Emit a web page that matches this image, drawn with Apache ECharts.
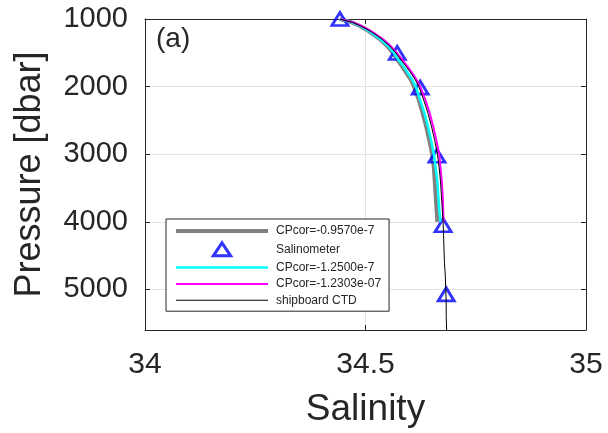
<!DOCTYPE html>
<html>
<head>
<meta charset="utf-8">
<script src="https://cdn.jsdelivr.net/npm/echarts@6/dist/echarts.min.js"></script>
<style>html,body{margin:0;padding:0;background:#fff;}#c{width:608px;height:433px;}</style>
</head>
<body>
<div id="c"></div>
<script>
// Pressure levels (dbar)
var pressure = [1000,1050,1100,1150,1200,1300,1400,1500,1600,1700,1800,1900,2000,2200,2400,2600,2800,3000,3200,3400,3600,3800,4000];
var pressureDeep = [4200,4400,4600,4800,5000,5200,5400,5600];

// Salinity profiles
var salGray = [34.442,34.469,34.486,34.500,34.512,34.533,34.549,34.562,34.572,34.583,34.593,34.603,34.610,34.621,34.630,34.638,34.645,34.651,34.655,34.657,34.659,34.661,34.663];
var salCyan = [34.442,34.469,34.487,34.501,34.513,34.534,34.551,34.564,34.574,34.586,34.596,34.606,34.614,34.624,34.634,34.642,34.649,34.655,34.659,34.663,34.665,34.667,34.670];
var salMagenta = [34.443,34.472,34.490,34.505,34.518,34.540,34.557,34.571,34.583,34.595,34.606,34.616,34.624,34.636,34.646,34.654,34.661,34.667,34.670,34.673,34.675,34.676,34.677];
var salCTD = [34.442,34.470,34.488,34.503,34.516,34.538,34.555,34.569,34.580,34.592,34.603,34.613,34.621,34.632,34.642,34.650,34.657,34.663,34.667,34.670,34.672,34.674,34.676];
var salCTDDeep = [34.677,34.678,34.679,34.681,34.682,34.683,34.683,34.684];

// Salinometer bottle samples
var bottleSal = [34.442,34.572,34.624,34.662,34.676,34.683];
var bottlePres = [1000,1502,2015,3024,4049,5073];

var seriesNames = ['CPcor=-0.9570e-7','Salinometer','CPcor=-1.2500e-7','CPcor=-1.2303e-07','shipboard CTD'];
var xTicks = [34, 34.5, 35];
var yTicks = [1000, 2000, 3000, 4000, 5000];

function pairs(xs, ys){ return xs.map(function(v,i){ return [v, ys[i]]; }); }

var FONT = "'Liberation Sans', Arial, Helvetica, sans-serif";
var TXT = '#262626';
var AX = '#262626';
var GRID = '#e3e3e3';
var BLUE = '#0000ff';

var chart = echarts.init(document.getElementById('c'), null, {renderer:'canvas'});
chart.setOption({
  animation: false,
  backgroundColor: '#fff',
  textStyle: {fontFamily: FONT, color: TXT},
  title: {
    text: '(a)', left: 156, top: 25, padding: 0,
    textStyle: {fontFamily: FONT, fontSize: 28, fontWeight: 'normal', color: TXT}
  },
  grid: {left: 145, right: 22, top: 19, bottom: 100, containLabel: false},
  legend: {
    orient: 'vertical', left: 166, top: 219,
    data: [
      {name: seriesNames[0], icon: 'path://M0,0H92V4H0Z', itemStyle: {color: '#808080', borderWidth: 0}},
      {name: seriesNames[1], icon: 'path://M8,0L16,12L0,12Z', itemStyle: {color: 'rgba(255,255,255,0)', borderColor: BLUE, borderWidth: 3}},
      {name: seriesNames[2], icon: 'path://M0,0H92V2.5H0Z', itemStyle: {color: '#00ffff', borderWidth: 0}},
      {name: seriesNames[3], icon: 'path://M0,0H92V2H0Z', itemStyle: {color: '#ff00ff', borderWidth: 0}},
      {name: seriesNames[4], icon: 'path://M0,0H92V1H0Z', itemStyle: {color: '#000000', borderWidth: 0}}
    ],
    itemWidth: 92, itemHeight: 13, itemGap: 4.3,
    padding: [6, 8, 5, 10],
    borderColor: '#262626', borderWidth: 1, borderRadius: 0,
    backgroundColor: '#fff',
    textStyle: {fontFamily: FONT, fontSize: 12, color: TXT, padding: [0, 0, 0, 3]},
    z: 20
  },
  xAxis: [{
    type: 'value', min: xTicks[0], max: xTicks[xTicks.length-1], interval: 0.5, position: 'bottom',
    axisLine: {show: true, lineStyle: {color: AX, width: 1}},
    axisTick: {show: true, inside: true, length: 5, lineStyle: {color: AX}},
    axisLabel: {fontSize: 30, margin: 20, color: TXT, fontFamily: FONT},
    splitLine: {show: true, lineStyle: {color: GRID, width: 1}},
    name: 'Salinity', nameLocation: 'middle', nameGap: 61,
    nameTextStyle: {fontSize: 37, color: TXT, fontFamily: FONT}
  },{
    type: 'value', min: xTicks[0], max: xTicks[xTicks.length-1], interval: 0.5, position: 'top',
    axisLine: {show: true, lineStyle: {color: AX, width: 1}},
    axisTick: {show: true, inside: true, length: 5, lineStyle: {color: AX}},
    axisLabel: {show: false}, splitLine: {show: false}
  }],
  yAxis: [{
    type: 'value', inverse: true, min: yTicks[0], max: 5600, interval: 1000, position: 'left',
    axisLine: {show: true, lineStyle: {color: AX, width: 1}},
    axisTick: {show: true, inside: true, length: 5, lineStyle: {color: AX}},
    axisLabel: {fontSize: 29, margin: 17, color: TXT, fontFamily: FONT, showMaxLabel: false,
                padding: [4, 0, 0, 0],
                formatter: function(v){ return String(v); }},
    splitLine: {show: true, lineStyle: {color: GRID, width: 1}},
    name: 'Pressure [dbar]', nameLocation: 'middle', nameGap: 97,
    nameTextStyle: {fontSize: 36, color: TXT, fontFamily: FONT}
  },{
    type: 'value', inverse: true, min: yTicks[0], max: 5600, interval: 1000, position: 'right',
    axisLine: {show: true, lineStyle: {color: AX, width: 1}},
    axisTick: {show: true, inside: true, length: 5, lineStyle: {color: AX}},
    axisLabel: {show: false}, splitLine: {show: false}
  }],
  series: [{
    name: seriesNames[0], type: 'line', symbol: 'none', z: 2,
    data: pairs(salGray, pressure),
    lineStyle: {color: '#808080', width: 4}, itemStyle: {color: '#808080'}
  },{
    name: seriesNames[1], type: 'scatter', symbol: 'triangle', symbolSize: [16, 13], z: 3,
    data: pairs(bottleSal, bottlePres),
    itemStyle: {color: 'rgba(255,255,255,0)', borderColor: BLUE, borderWidth: 2.8}
  },{
    name: seriesNames[2], type: 'line', symbol: 'none', z: 4,
    data: pairs(salCyan, pressure),
    lineStyle: {color: '#00ffff', width: 2.5}, itemStyle: {color: '#00ffff'}
  },{
    name: seriesNames[3], type: 'line', symbol: 'none', z: 5,
    data: pairs(salMagenta, pressure),
    lineStyle: {color: '#ff00ff', width: 2}, itemStyle: {color: '#ff00ff'}
  },{
    name: seriesNames[4], type: 'line', symbol: 'none', z: 6,
    data: pairs(salCTD.concat(salCTDDeep), pressure.concat(pressureDeep)),
    lineStyle: {color: '#000000', width: 1}, itemStyle: {color: '#000000'}
  }]
});
</script>
</body>
</html>
